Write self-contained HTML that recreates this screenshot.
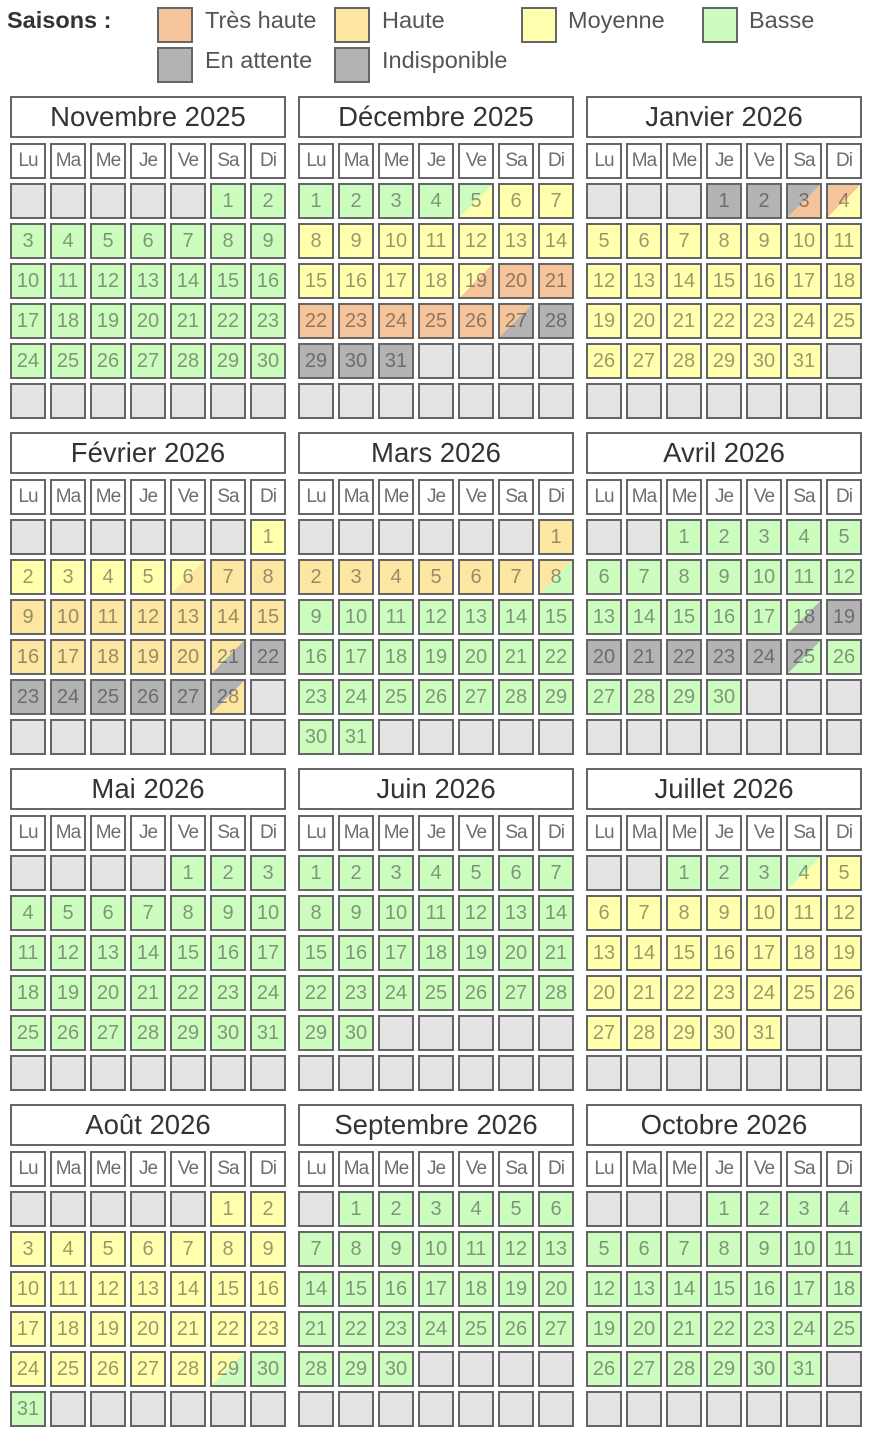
<!DOCTYPE html>
<html lang="fr">
<head>
<meta charset="utf-8">
<style>
html,body{margin:0;padding:0;background:#fff;}
body{width:874px;height:1442px;position:relative;overflow:hidden;font-family:"Liberation Sans",Arial,sans-serif;}
.lg{position:absolute;font-size:23.5px;line-height:27px;color:#555;white-space:nowrap;}
.sw{position:absolute;width:36px;height:36px;box-sizing:border-box;border:2px solid #666;}
.ttl{position:absolute;left:7px;top:7px;font-size:23.5px;line-height:27px;font-weight:bold;color:#333;}
.m{position:absolute;width:276px;height:324px;}
.hd{position:absolute;left:0;top:0;width:276px;height:42px;box-sizing:border-box;border:2px solid #666;background:#fff;font-size:27.5px;line-height:38px;text-align:center;color:#333;}
.g{position:absolute;left:0;top:47px;display:grid;grid-template-columns:repeat(7,36px);grid-auto-rows:36px;gap:4px;}
.g i{font-style:normal;display:block;box-sizing:border-box;border:2px solid #666;text-align:center;font-size:20px;line-height:32px;color:rgba(0,0,0,.4);}
.g i.w{background:#fff;color:#6e6e6e;font-size:19px;letter-spacing:-1px;}
.e{background:#e4e4e4;}
.B{background:#cdfcbf;}
.M{background:#ffffad;}
.H{background:#fde6a2;}
.T{background:#f6c49a;}
.G{background:#b3b3b3;}
.by{background:linear-gradient(to bottom right,#cdfcbf 50%,#ffffad 50%);}
.yb{background:linear-gradient(to bottom right,#ffffad 50%,#cdfcbf 50%);}
.yt{background:linear-gradient(to bottom right,#ffffad 50%,#f6c49a 50%);}
.tg{background:linear-gradient(to bottom right,#f6c49a 50%,#b3b3b3 50%);}
.gt{background:linear-gradient(to bottom right,#b3b3b3 50%,#f6c49a 50%);}
.ty{background:linear-gradient(to bottom right,#f6c49a 50%,#ffffad 50%);}
.yh{background:linear-gradient(to bottom right,#ffffad 50%,#fde6a2 50%);}
.hg{background:linear-gradient(to bottom right,#fde6a2 50%,#b3b3b3 50%);}
.gh{background:linear-gradient(to bottom right,#b3b3b3 50%,#fde6a2 50%);}
.hb{background:linear-gradient(to bottom right,#fde6a2 50%,#cdfcbf 50%);}
.bg{background:linear-gradient(to bottom right,#cdfcbf 50%,#b3b3b3 50%);}
.gb{background:linear-gradient(to bottom right,#b3b3b3 50%,#cdfcbf 50%);}
</style>
</head>
<body>

<div class="ttl">Saisons :</div>
<div class="sw T" style="left:157px;top:7px;"></div><div class="lg" style="left:205px;top:7px;">Très haute</div>
<div class="sw H" style="left:334px;top:7px;"></div><div class="lg" style="left:382px;top:7px;">Haute</div>
<div class="sw M" style="left:521px;top:7px;"></div><div class="lg" style="left:568px;top:7px;">Moyenne</div>
<div class="sw B" style="left:702px;top:7px;"></div><div class="lg" style="left:749px;top:7px;">Basse</div>
<div class="sw G" style="left:157px;top:47px;"></div><div class="lg" style="left:205px;top:47px;">En attente</div>
<div class="sw G" style="left:334px;top:47px;"></div><div class="lg" style="left:382px;top:47px;">Indisponible</div>

<!-- Novembre 2025 -->
<div class="m" style="left:10px;top:96px;">
<div class="hd">Novembre 2025</div>
<div class="g">
<i class="w">Lu</i><i class="w">Ma</i><i class="w">Me</i><i class="w">Je</i><i class="w">Ve</i><i class="w">Sa</i><i class="w">Di</i>
<i class="e"></i><i class="e"></i><i class="e"></i><i class="e"></i><i class="e"></i><i class="B">1</i><i class="B">2</i>
<i class="B">3</i><i class="B">4</i><i class="B">5</i><i class="B">6</i><i class="B">7</i><i class="B">8</i><i class="B">9</i>
<i class="B">10</i><i class="B">11</i><i class="B">12</i><i class="B">13</i><i class="B">14</i><i class="B">15</i><i class="B">16</i>
<i class="B">17</i><i class="B">18</i><i class="B">19</i><i class="B">20</i><i class="B">21</i><i class="B">22</i><i class="B">23</i>
<i class="B">24</i><i class="B">25</i><i class="B">26</i><i class="B">27</i><i class="B">28</i><i class="B">29</i><i class="B">30</i>
<i class="e"></i><i class="e"></i><i class="e"></i><i class="e"></i><i class="e"></i><i class="e"></i><i class="e"></i>
</div>
</div>

<!-- Décembre 2025 -->
<div class="m" style="left:298px;top:96px;">
<div class="hd">Décembre 2025</div>
<div class="g">
<i class="w">Lu</i><i class="w">Ma</i><i class="w">Me</i><i class="w">Je</i><i class="w">Ve</i><i class="w">Sa</i><i class="w">Di</i>
<i class="B">1</i><i class="B">2</i><i class="B">3</i><i class="B">4</i><i class="by">5</i><i class="M">6</i><i class="M">7</i>
<i class="M">8</i><i class="M">9</i><i class="M">10</i><i class="M">11</i><i class="M">12</i><i class="M">13</i><i class="M">14</i>
<i class="M">15</i><i class="M">16</i><i class="M">17</i><i class="M">18</i><i class="yt">19</i><i class="T">20</i><i class="T">21</i>
<i class="T">22</i><i class="T">23</i><i class="T">24</i><i class="T">25</i><i class="T">26</i><i class="tg">27</i><i class="G">28</i>
<i class="G">29</i><i class="G">30</i><i class="G">31</i><i class="e"></i><i class="e"></i><i class="e"></i><i class="e"></i>
<i class="e"></i><i class="e"></i><i class="e"></i><i class="e"></i><i class="e"></i><i class="e"></i><i class="e"></i>
</div>
</div>

<!-- Janvier 2026 -->
<div class="m" style="left:586px;top:96px;">
<div class="hd">Janvier 2026</div>
<div class="g">
<i class="w">Lu</i><i class="w">Ma</i><i class="w">Me</i><i class="w">Je</i><i class="w">Ve</i><i class="w">Sa</i><i class="w">Di</i>
<i class="e"></i><i class="e"></i><i class="e"></i><i class="G">1</i><i class="G">2</i><i class="gt">3</i><i class="ty">4</i>
<i class="M">5</i><i class="M">6</i><i class="M">7</i><i class="M">8</i><i class="M">9</i><i class="M">10</i><i class="M">11</i>
<i class="M">12</i><i class="M">13</i><i class="M">14</i><i class="M">15</i><i class="M">16</i><i class="M">17</i><i class="M">18</i>
<i class="M">19</i><i class="M">20</i><i class="M">21</i><i class="M">22</i><i class="M">23</i><i class="M">24</i><i class="M">25</i>
<i class="M">26</i><i class="M">27</i><i class="M">28</i><i class="M">29</i><i class="M">30</i><i class="M">31</i><i class="e"></i>
<i class="e"></i><i class="e"></i><i class="e"></i><i class="e"></i><i class="e"></i><i class="e"></i><i class="e"></i>
</div>
</div>

<!-- Février 2026 -->
<div class="m" style="left:10px;top:432px;">
<div class="hd">Février 2026</div>
<div class="g">
<i class="w">Lu</i><i class="w">Ma</i><i class="w">Me</i><i class="w">Je</i><i class="w">Ve</i><i class="w">Sa</i><i class="w">Di</i>
<i class="e"></i><i class="e"></i><i class="e"></i><i class="e"></i><i class="e"></i><i class="e"></i><i class="M">1</i>
<i class="M">2</i><i class="M">3</i><i class="M">4</i><i class="M">5</i><i class="yh">6</i><i class="H">7</i><i class="H">8</i>
<i class="H">9</i><i class="H">10</i><i class="H">11</i><i class="H">12</i><i class="H">13</i><i class="H">14</i><i class="H">15</i>
<i class="H">16</i><i class="H">17</i><i class="H">18</i><i class="H">19</i><i class="H">20</i><i class="hg">21</i><i class="G">22</i>
<i class="G">23</i><i class="G">24</i><i class="G">25</i><i class="G">26</i><i class="G">27</i><i class="gh">28</i><i class="e"></i>
<i class="e"></i><i class="e"></i><i class="e"></i><i class="e"></i><i class="e"></i><i class="e"></i><i class="e"></i>
</div>
</div>

<!-- Mars 2026 -->
<div class="m" style="left:298px;top:432px;">
<div class="hd">Mars 2026</div>
<div class="g">
<i class="w">Lu</i><i class="w">Ma</i><i class="w">Me</i><i class="w">Je</i><i class="w">Ve</i><i class="w">Sa</i><i class="w">Di</i>
<i class="e"></i><i class="e"></i><i class="e"></i><i class="e"></i><i class="e"></i><i class="e"></i><i class="H">1</i>
<i class="H">2</i><i class="H">3</i><i class="H">4</i><i class="H">5</i><i class="H">6</i><i class="H">7</i><i class="hb">8</i>
<i class="B">9</i><i class="B">10</i><i class="B">11</i><i class="B">12</i><i class="B">13</i><i class="B">14</i><i class="B">15</i>
<i class="B">16</i><i class="B">17</i><i class="B">18</i><i class="B">19</i><i class="B">20</i><i class="B">21</i><i class="B">22</i>
<i class="B">23</i><i class="B">24</i><i class="B">25</i><i class="B">26</i><i class="B">27</i><i class="B">28</i><i class="B">29</i>
<i class="B">30</i><i class="B">31</i><i class="e"></i><i class="e"></i><i class="e"></i><i class="e"></i><i class="e"></i>
</div>
</div>

<!-- Avril 2026 -->
<div class="m" style="left:586px;top:432px;">
<div class="hd">Avril 2026</div>
<div class="g">
<i class="w">Lu</i><i class="w">Ma</i><i class="w">Me</i><i class="w">Je</i><i class="w">Ve</i><i class="w">Sa</i><i class="w">Di</i>
<i class="e"></i><i class="e"></i><i class="B">1</i><i class="B">2</i><i class="B">3</i><i class="B">4</i><i class="B">5</i>
<i class="B">6</i><i class="B">7</i><i class="B">8</i><i class="B">9</i><i class="B">10</i><i class="B">11</i><i class="B">12</i>
<i class="B">13</i><i class="B">14</i><i class="B">15</i><i class="B">16</i><i class="B">17</i><i class="bg">18</i><i class="G">19</i>
<i class="G">20</i><i class="G">21</i><i class="G">22</i><i class="G">23</i><i class="G">24</i><i class="gb">25</i><i class="B">26</i>
<i class="B">27</i><i class="B">28</i><i class="B">29</i><i class="B">30</i><i class="e"></i><i class="e"></i><i class="e"></i>
<i class="e"></i><i class="e"></i><i class="e"></i><i class="e"></i><i class="e"></i><i class="e"></i><i class="e"></i>
</div>
</div>

<!-- Mai 2026 -->
<div class="m" style="left:10px;top:768px;">
<div class="hd">Mai 2026</div>
<div class="g">
<i class="w">Lu</i><i class="w">Ma</i><i class="w">Me</i><i class="w">Je</i><i class="w">Ve</i><i class="w">Sa</i><i class="w">Di</i>
<i class="e"></i><i class="e"></i><i class="e"></i><i class="e"></i><i class="B">1</i><i class="B">2</i><i class="B">3</i>
<i class="B">4</i><i class="B">5</i><i class="B">6</i><i class="B">7</i><i class="B">8</i><i class="B">9</i><i class="B">10</i>
<i class="B">11</i><i class="B">12</i><i class="B">13</i><i class="B">14</i><i class="B">15</i><i class="B">16</i><i class="B">17</i>
<i class="B">18</i><i class="B">19</i><i class="B">20</i><i class="B">21</i><i class="B">22</i><i class="B">23</i><i class="B">24</i>
<i class="B">25</i><i class="B">26</i><i class="B">27</i><i class="B">28</i><i class="B">29</i><i class="B">30</i><i class="B">31</i>
<i class="e"></i><i class="e"></i><i class="e"></i><i class="e"></i><i class="e"></i><i class="e"></i><i class="e"></i>
</div>
</div>

<!-- Juin 2026 -->
<div class="m" style="left:298px;top:768px;">
<div class="hd">Juin 2026</div>
<div class="g">
<i class="w">Lu</i><i class="w">Ma</i><i class="w">Me</i><i class="w">Je</i><i class="w">Ve</i><i class="w">Sa</i><i class="w">Di</i>
<i class="B">1</i><i class="B">2</i><i class="B">3</i><i class="B">4</i><i class="B">5</i><i class="B">6</i><i class="B">7</i>
<i class="B">8</i><i class="B">9</i><i class="B">10</i><i class="B">11</i><i class="B">12</i><i class="B">13</i><i class="B">14</i>
<i class="B">15</i><i class="B">16</i><i class="B">17</i><i class="B">18</i><i class="B">19</i><i class="B">20</i><i class="B">21</i>
<i class="B">22</i><i class="B">23</i><i class="B">24</i><i class="B">25</i><i class="B">26</i><i class="B">27</i><i class="B">28</i>
<i class="B">29</i><i class="B">30</i><i class="e"></i><i class="e"></i><i class="e"></i><i class="e"></i><i class="e"></i>
<i class="e"></i><i class="e"></i><i class="e"></i><i class="e"></i><i class="e"></i><i class="e"></i><i class="e"></i>
</div>
</div>

<!-- Juillet 2026 -->
<div class="m" style="left:586px;top:768px;">
<div class="hd">Juillet 2026</div>
<div class="g">
<i class="w">Lu</i><i class="w">Ma</i><i class="w">Me</i><i class="w">Je</i><i class="w">Ve</i><i class="w">Sa</i><i class="w">Di</i>
<i class="e"></i><i class="e"></i><i class="B">1</i><i class="B">2</i><i class="B">3</i><i class="by">4</i><i class="M">5</i>
<i class="M">6</i><i class="M">7</i><i class="M">8</i><i class="M">9</i><i class="M">10</i><i class="M">11</i><i class="M">12</i>
<i class="M">13</i><i class="M">14</i><i class="M">15</i><i class="M">16</i><i class="M">17</i><i class="M">18</i><i class="M">19</i>
<i class="M">20</i><i class="M">21</i><i class="M">22</i><i class="M">23</i><i class="M">24</i><i class="M">25</i><i class="M">26</i>
<i class="M">27</i><i class="M">28</i><i class="M">29</i><i class="M">30</i><i class="M">31</i><i class="e"></i><i class="e"></i>
<i class="e"></i><i class="e"></i><i class="e"></i><i class="e"></i><i class="e"></i><i class="e"></i><i class="e"></i>
</div>
</div>

<!-- Août 2026 -->
<div class="m" style="left:10px;top:1104px;">
<div class="hd">Août 2026</div>
<div class="g">
<i class="w">Lu</i><i class="w">Ma</i><i class="w">Me</i><i class="w">Je</i><i class="w">Ve</i><i class="w">Sa</i><i class="w">Di</i>
<i class="e"></i><i class="e"></i><i class="e"></i><i class="e"></i><i class="e"></i><i class="M">1</i><i class="M">2</i>
<i class="M">3</i><i class="M">4</i><i class="M">5</i><i class="M">6</i><i class="M">7</i><i class="M">8</i><i class="M">9</i>
<i class="M">10</i><i class="M">11</i><i class="M">12</i><i class="M">13</i><i class="M">14</i><i class="M">15</i><i class="M">16</i>
<i class="M">17</i><i class="M">18</i><i class="M">19</i><i class="M">20</i><i class="M">21</i><i class="M">22</i><i class="M">23</i>
<i class="M">24</i><i class="M">25</i><i class="M">26</i><i class="M">27</i><i class="M">28</i><i class="yb">29</i><i class="B">30</i>
<i class="B">31</i><i class="e"></i><i class="e"></i><i class="e"></i><i class="e"></i><i class="e"></i><i class="e"></i>
</div>
</div>

<!-- Septembre 2026 -->
<div class="m" style="left:298px;top:1104px;">
<div class="hd">Septembre 2026</div>
<div class="g">
<i class="w">Lu</i><i class="w">Ma</i><i class="w">Me</i><i class="w">Je</i><i class="w">Ve</i><i class="w">Sa</i><i class="w">Di</i>
<i class="e"></i><i class="B">1</i><i class="B">2</i><i class="B">3</i><i class="B">4</i><i class="B">5</i><i class="B">6</i>
<i class="B">7</i><i class="B">8</i><i class="B">9</i><i class="B">10</i><i class="B">11</i><i class="B">12</i><i class="B">13</i>
<i class="B">14</i><i class="B">15</i><i class="B">16</i><i class="B">17</i><i class="B">18</i><i class="B">19</i><i class="B">20</i>
<i class="B">21</i><i class="B">22</i><i class="B">23</i><i class="B">24</i><i class="B">25</i><i class="B">26</i><i class="B">27</i>
<i class="B">28</i><i class="B">29</i><i class="B">30</i><i class="e"></i><i class="e"></i><i class="e"></i><i class="e"></i>
<i class="e"></i><i class="e"></i><i class="e"></i><i class="e"></i><i class="e"></i><i class="e"></i><i class="e"></i>
</div>
</div>

<!-- Octobre 2026 -->
<div class="m" style="left:586px;top:1104px;">
<div class="hd">Octobre 2026</div>
<div class="g">
<i class="w">Lu</i><i class="w">Ma</i><i class="w">Me</i><i class="w">Je</i><i class="w">Ve</i><i class="w">Sa</i><i class="w">Di</i>
<i class="e"></i><i class="e"></i><i class="e"></i><i class="B">1</i><i class="B">2</i><i class="B">3</i><i class="B">4</i>
<i class="B">5</i><i class="B">6</i><i class="B">7</i><i class="B">8</i><i class="B">9</i><i class="B">10</i><i class="B">11</i>
<i class="B">12</i><i class="B">13</i><i class="B">14</i><i class="B">15</i><i class="B">16</i><i class="B">17</i><i class="B">18</i>
<i class="B">19</i><i class="B">20</i><i class="B">21</i><i class="B">22</i><i class="B">23</i><i class="B">24</i><i class="B">25</i>
<i class="B">26</i><i class="B">27</i><i class="B">28</i><i class="B">29</i><i class="B">30</i><i class="B">31</i><i class="e"></i>
<i class="e"></i><i class="e"></i><i class="e"></i><i class="e"></i><i class="e"></i><i class="e"></i><i class="e"></i>
</div>
</div>

</body>
</html>
